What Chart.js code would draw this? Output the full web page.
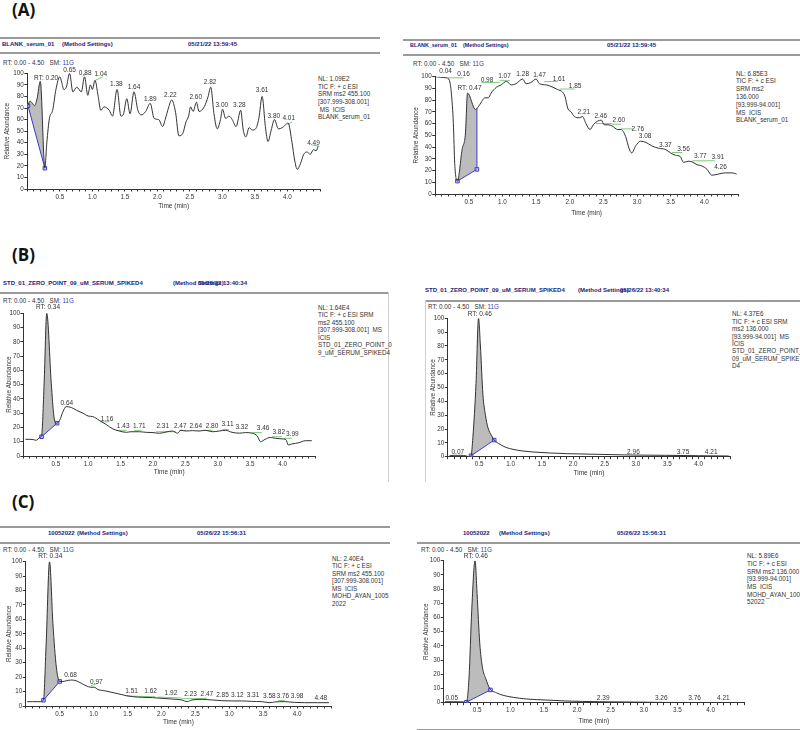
<!DOCTYPE html>
<html>
<head>
<meta charset="utf-8">
<script src="https://cdn.jsdelivr.net/npm/chart.js@4.4.1/dist/chart.umd.min.js"></script>
<style>
body{margin:0;background:#fff;}
#page{position:relative;width:800px;height:730px;overflow:hidden;font-family:"Liberation Sans",Arial,sans-serif;}
.t{position:absolute;white-space:pre;line-height:8px;height:8px;}
.hd{font-size:6px;font-weight:bold;color:#22227a;}
.hds{font-size:5.4px;font-weight:bold;color:#22227a;}
.sm{font-size:6.3px;color:#333;}
.blue{color:#3344aa;}
.rule{position:absolute;height:1.5px;background:#9a9a9a;}
.vr{position:absolute;width:1px;background:#cfcfcf;}
.tag{position:absolute;font-family:"Open Sans",sans-serif;font-weight:bold;font-size:17px;line-height:20px;color:#111;}
.leg{position:absolute;white-space:pre;font-size:6.3px;color:#333;}
canvas{position:absolute;}
</style>
</head>
<body>
<div id="page"></div>
<script>
// (A) left - BLANK_serum_01, SRM 455.100
const blank455Time = [0.01,0.04,0.08,0.11,0.15,0.20,0.27,0.30,0.34,0.39,0.44,0.50,0.53,0.56,0.60,0.65,0.70,0.76,0.83,0.88,0.93,0.97,1.00,1.04,1.09,1.13,1.18,1.26,1.31,1.38,1.44,1.48,1.53,1.58,1.64,1.70,1.75,1.82,1.89,1.95,2.02,2.08,2.12,2.17,2.22,2.28,2.33,2.39,2.44,2.48,2.51,2.55,2.60,2.64,2.72,2.78,2.82,2.87,2.92,2.97,3.00,3.05,3.10,3.15,3.21,3.28,3.32,3.36,3.41,3.46,3.51,3.56,3.61,3.66,3.70,3.75,3.80,3.86,3.92,3.96,4.01,4.07,4.11,4.15,4.20,4.25,4.30,4.35,4.40,4.44,4.47];
const blank455Abund = [72,76,74,72,78,93,18,40,61,68,86,97,92,86,88,100,84,88,84,97,81,90,86,94,80,68,71,68,63,86,63,65,78,65,84,68,64,67,74,61,60,54,60,70,77,66,46,48,58,63,71,67,75,67,71,80,88,65,52,60,69,61,63,60,54,68,51,45,53,51,52,61,80,54,41,51,60,52,53,55,57,40,25,17,22,30,32,30,34,33,37];
const blank455BaseTime = [0.01,0.27];
const blank455BaseAbund = [72,18];
const blank455PeakText = ['RT: 0.20','0.65','0.88','1.04','1.38','1.64','1.89','2.22','2.60','2.82','3.00','3.28','3.61','3.80','4.01','4.49'];
const blank455PeakTime = [0.29,0.65,0.89,1.13,1.37,1.64,1.89,2.20,2.59,2.81,2.99,3.26,3.61,3.79,4.02,4.40];
const blank455PeakAbund = [96,103,100,99,91,88,78,81,79,92,72,72,85,63,61,40];
const blank455GreenTime = [0.85,0.92,null,1.05,1.16,null,4.00,4.07,null,4.38,4.49];
const blank455GreenAbund = [97.7,100,null,94,97,null,55.5,58,null,38,37];

// (A) right - BLANK_serum_01, SRM 136.000
const blank136Time = [0.01,0.08,0.17,0.21,0.24,0.27,0.29,0.33,0.40,0.45,0.48,0.60,0.66,0.74,0.79,0.83,0.91,0.98,1.06,1.13,1.20,1.30,1.35,1.42,1.50,1.55,1.65,1.75,1.82,1.89,1.93,1.97,2.02,2.07,2.14,2.19,2.24,2.30,2.35,2.41,2.47,2.51,2.57,2.63,2.71,2.76,2.83,2.88,2.92,2.98,3.05,3.13,3.22,3.32,3.42,3.50,3.57,3.64,3.69,3.77,3.83,3.89,3.96,4.04,4.11,4.21,4.31,4.41,4.48];
const blank136Abund = [100,99.5,99,97,86,60,26,11,38,52,86,72,76,82,82,86,91,93,96,93,94,98,94,95,98,94,93,91,89,87,83,73,70,66,65,66,60,55,59,62,63,59,59,58,55,55,49,39,35,41,45,44,41,39,38,35,33,32,27,28,27,25,24,21,16,17,18,18,17];
const blank136BaseTime = [0.33,0.62,0.62];
const blank136BaseAbund = [11,21,73];
const blank136PeakText = ['0.04','0.16','RT: 0.47','0.98','1.07','1.28','1.47','1.61','1.85','2.21','2.46','2.60','2.76','3.08','3.37','3.56','3.77','3.91','4.26'];
const blank136PeakTime = [0.155,0.42,0.51,0.77,1.03,1.30,1.55,1.84,2.08,2.21,2.46,2.73,3.01,3.12,3.42,3.69,3.94,4.20,4.24];
const blank136PeakAbund = [105,102,90,97,100,102,101,98,92,70,66,63,55,49,42,38,32,31,23];
const blank136GreenTime = [0.06,0.17,null,0.19,0.42,null,0.69,0.96,null,0.96,1.11,null,1.62,1.82,null,1.85,2.07,null,2.39,2.63,null,2.63,2.76,null,2.76,2.95,null,3.52,3.67,null,3.82,4.01,null,4.01,4.16];
const blank136GreenAbund = [102,102,null,99,99,null,95,95,null,96.6,96.6,null,95.8,95.8,null,89.5,89.5,null,60,60,null,59.5,59.5,null,55.5,55.5,null,35.4,35.4,null,28.3,28.3,null,28.3,28.3];

// (B) left - STD_01_ZERO_POINT_09_uM_SERUM_SPIKED4, SRM 455.100
const std455Time = [0.03,0.10,0.15,0.20,0.25,0.28,0.32,0.36,0.43,0.47,0.51,0.56,0.61,0.66,0.74,0.82,0.92,1.00,1.07,1.17,1.28,1.38,1.48,1.59,1.66,1.79,1.89,2.00,2.10,2.20,2.30,2.38,2.43,2.51,2.61,2.71,2.81,2.92,3.02,3.12,3.22,3.33,3.43,3.53,3.61,3.66,3.73,3.81,3.89,3.99,4.05,4.09,4.14,4.25,4.35,4.45];
const std455Abund = [11.7,11.7,11.5,11,13,14,51,100,51,28,23,25,31,34.6,34,32,30,28,27.6,25,22,19,17.5,16.6,17,17,16.6,16.4,15.9,16.8,17.5,16,18,17.5,17.8,17.5,18,17,17.5,18,16.6,16,16.4,16,14,10,11.7,13,12.4,12,11.5,7.7,8.4,9.3,10.7,10.7];
const std455BaseTime = [0.28,0.52];
const std455BaseAbund = [13.5,23];
const std455PeakText = ['RT: 0.34','0.64','1.16','1.43','1.71','2.31','2.47','2.64','2.80','3.11','3.32','3.46','3.82','3.99'];
const std455PeakTime = [0.38,0.67,1.29,1.54,1.79,2.15,2.42,2.66,2.91,3.15,3.37,3.70,3.94,4.15];
const std455PeakAbund = [104,37,26,21,21,21,21.2,21.2,21.2,22,20,19.4,16.4,15.4];
const std455GreenTime = [1.18,1.33,null,1.46,1.59,null,1.71,1.82,null,2.05,2.35,null,2.40,2.51,null,2.76,2.92,null,3.07,3.17,null,3.53,3.68,null,3.84,3.99,null,4.02,4.14];
const std455GreenAbund = [24,24,null,18,18,null,18,18,null,17,17,null,18,18,null,18,18,null,18.5,18.5,null,16.4,16.4,null,13.5,13.5,null,12.4,12.4];

// (B) right - STD_01_ZERO_POINT_09_uM_SERUM_SPIKED4, SRM 136.000
const std136Time = [0.03,0.10,0.20,0.30,0.33,0.37,0.40,0.45,0.49,0.52,0.56,0.60,0.64,0.70,0.74,0.83,0.93,1.04,1.20,1.36,1.62,1.89,2.41,2.94,3.47,4.00,4.48];
const std136Abund = [0.7,1,1,0.5,0,0.7,14,53,100,80,45,30,21,15,12,9,6.7,5.3,4.1,3.4,2.7,2.2,1.7,1.2,1.0,0.7,0.5];
const std136BaseTime = [0.37,0.74];
const std136BaseAbund = [0.7,12];
const std136PeakText = ['RT: 0.46','0.07','2.96','3.75','4.21'];
const std136PeakTime = [0.51,0.16,2.96,3.75,4.20];
const std136PeakAbund = [103,3.6,3.6,3.1,3.1];

// (C) left - 10052022, SRM 455.100
const sample455Time = [0.02,0.10,0.21,0.26,0.30,0.35,0.40,0.45,0.50,0.55,0.60,0.67,0.74,0.82,0.89,0.96,1.01,1.06,1.18,1.33,1.48,1.57,1.72,1.87,2.01,2.16,2.30,2.38,2.45,2.60,2.74,2.89,3.04,3.18,3.33,3.48,3.60,3.67,3.82,3.96,4.11,4.30,4.47];
const sample455Abund = [3,3,3,4,43,100,57,27,17,17,17.5,18,17.5,15.7,14,13,13,11.5,10.4,8.8,7.2,6.5,6,5.8,5.3,4.8,4.2,3,4.2,4.6,4.2,3.7,3.5,3.5,3.2,3,2.3,2.8,3,2.5,2.3,2.3,2.3];
const sample455BaseTime = [0.26,0.50];
const sample455BaseAbund = [4,17];
const sample455PeakText = ['RT: 0.34','0.68','0.97','1.51','1.62','1.92','2.23','2.47','2.85','3.12','3.31','3.58','3.76','3.98','4.48'];
const sample455PeakTime = [0.36,0.66,1.04,1.56,1.84,2.14,2.43,2.67,2.90,3.12,3.35,3.59,3.79,4.00,4.35];
const sample455PeakAbund = [103.5,21,16.4,10,10,8.8,8,8,7.6,7.6,7.2,6.5,6.5,6.5,5.3];
const sample455GreenTime = [0.96,1.06,null,1.48,1.91,null,1.95,2.30,null,2.30,2.67,null,3.72,3.82];
const sample455GreenAbund = [14,15.7,null,6.9,6.4,null,6.2,5.5,null,5.0,5.3,null,3.7,3.9];

// (C) right - 10052022, SRM 136.000
const sample136Time = [0.02,0.15,0.30,0.34,0.38,0.42,0.47,0.50,0.54,0.58,0.63,0.69,0.79,0.89,1.04,1.24,1.53,1.83,2.33,3.32,4.49];
const sample136Abund = [0.7,0.7,0.5,0,18,65,100,77,42,25,17,10,7,5.2,3.8,2.6,1.9,1.2,0.7,0.2,0];
const sample136BaseTime = [0.34,0.70];
const sample136BaseAbund = [0.3,9];
const sample136PeakText = ['RT: 0.46','0.05','2.39','3.26','3.76','4.21'];
const sample136PeakTime = [0.48,0.12,2.39,3.26,3.76,4.19];
const sample136PeakAbund = [103,3,3,3,3,3];

const FONT = '"Liberation Sans", Arial, sans-serif';
const page = document.getElementById('page');

function pts(ts, ys) {
    let last = 0;
    return ts.map((t, i) => {
        if (t !== null) last = t;
        return {x: last, y: ys[i]};
    });
}

// peak retention-time labels drawn above the trace
const peakLabels = {
    id: 'peakLabels',
    afterDatasetsDraw(chart, args, opts) {
        const {ctx, scales} = chart;
        ctx.save();
        ctx.font = '6.5px ' + FONT;
        ctx.fillStyle = '#333';
        ctx.textAlign = 'center';
        ctx.textBaseline = 'middle';
        opts.text.forEach((s, i) => {
            ctx.fillText(s, scales.x.getPixelForValue(opts.t[i]), scales.y.getPixelForValue(opts.y[i]));
        });
        ctx.restore();
    }
};

function put(x, yc, text, cls) {
    const d = document.createElement('div');
    d.className = 't ' + cls;
    d.style.left = x + 'px';
    d.style.top = (yc - 4) + 'px';
    d.innerHTML = text;
    page.appendChild(d);
}

function rule(x1, x2, y) {
    const d = document.createElement('div');
    d.className = 'rule';
    d.style.left = x1 + 'px';
    d.style.width = (x2 - x1) + 'px';
    d.style.top = y + 'px';
    page.appendChild(d);
}

function vrule(x, y1, y2) {
    const d = document.createElement('div');
    d.className = 'vr';
    d.style.left = x + 'px';
    d.style.top = y1 + 'px';
    d.style.height = (y2 - y1) + 'px';
    page.appendChild(d);
}

function tag(x, y, text) {
    const d = document.createElement('div');
    d.className = 'tag';
    d.style.left = x + 'px';
    d.style.top = y + 'px';
    d.textContent = text;
    page.appendChild(d);
}

function legend(x, yFirst, step, lines) {
    const d = document.createElement('div');
    d.className = 'leg';
    d.style.left = x + 'px';
    d.style.top = (yFirst - step / 2) + 'px';
    d.style.lineHeight = step + 'px';
    d.textContent = lines.join('\n');
    page.appendChild(d);
}

function rtLine(x, yc) {
    put(x, yc, 'RT: 0.00 - 4.50   SM: <span class="blue">11G</span>', 'sm');
}

// box: plot area in page pixels (l,r = 0 and 4.5 min, t,b = 100 and 0 %)
function chromatogram(box, trace, base, green, peaks) {
    const padTop = 12, padRight = 3;
    const left = Math.floor(box.l - box.wy);
    const top = Math.floor(box.t - padTop);
    const w = Math.ceil(box.r + padRight) - left;
    const h = Math.ceil(box.b + box.hx) - top;
    const cv = document.createElement('canvas');
    cv.width = w;
    cv.height = h;
    cv.style.left = left + 'px';
    cv.style.top = top + 'px';
    cv.style.width = w + 'px';
    cv.style.height = h + 'px';
    page.appendChild(cv);

    const datasets = [{
        data: trace,
        borderColor: '#333',
        borderWidth: 1,
        pointRadius: 0,
        cubicInterpolationMode: 'monotone',
        fill: {target: 1, above: '#bcbcbc', below: '#bcbcbc'}
    }, {
        data: base,
        borderColor: '#3b3bd0',
        borderWidth: 1,
        pointStyle: 'rect',
        pointRadius: base.map((p, i) => i < 2 ? 2.5 : 0),
        pointBorderColor: '#3b3bd0',
        pointBackgroundColor: 'rgba(190,190,255,0.6)',
        pointBorderWidth: 1,
        tension: 0,
        fill: false
    }];
    if (green.length) {
        datasets.push({
            data: green,
            borderColor: '#7acb7a',
            borderWidth: 1,
            pointRadius: 0,
            tension: 0,
            spanGaps: false,
            fill: false
        });
    }

    new Chart(cv, {
        type: 'line',
        data: {datasets},
        plugins: [peakLabels],
        options: {
            responsive: false,
            animation: false,
            events: [],
            layout: {padding: {top: box.t - top, right: left + w - box.r, left: 0, bottom: 0}},
            plugins: {
                legend: {display: false},
                tooltip: {enabled: false},
                filler: {propagate: false, drawTime: 'beforeDatasetsDraw'},
                peakLabels: peaks
            },
            scales: {
                x: {
                    type: 'linear', min: 0, max: 4.5,
                    border: {color: '#333', width: 1},
                    grid: {drawOnChartArea: false, drawTicks: true, tickLength: 2.5, color: '#333'},
                    ticks: {
                        stepSize: 0.1, autoSkip: false, maxRotation: 0, padding: 1.5,
                        color: '#333', font: {size: 6.3, family: FONT},
                        callback: v => {
                            const k = Math.round(v * 10);
                            return (k % 5 === 0 && k > 0 && k < 45) ? v.toFixed(1) : '';
                        }
                    },
                    title: {display: true, text: 'Time (min)', color: '#333', font: {size: 6.5, family: FONT}, padding: {top: 0, bottom: 1}},
                    afterFit: s => { s.height = top + h - box.b; }
                },
                y: {
                    min: 0, max: 100,
                    border: {color: '#333', width: 1},
                    grid: {drawOnChartArea: false, drawTicks: true, tickLength: 3, color: '#333'},
                    ticks: {stepSize: 10, padding: 0.5, color: '#333', font: {size: 6.3, family: FONT}},
                    title: {display: true, text: 'Relative Abundance', color: '#333', font: {size: 6.3, family: FONT}, padding: {top: 1, bottom: 1}},
                    afterFit: s => { s.width = box.l - left; }
                }
            }
        }
    });
}

document.addEventListener('DOMContentLoaded', function () {
    tag(12, 0, '(A)');
    tag(12, 245, '(B)');
    tag(12, 492, '(C)');

    // (A) left
    rule(0, 380, 37);
    put(2, 43.5, 'BLANK_serum_01', 'hd');
    put(62, 43.5, '(Method Settings)', 'hd');
    put(188, 43.5, '05/21/22 13:59:45', 'hd');
    rule(0, 380, 52);
    rtLine(3, 63);
    legend(318, 79, 7.6, ['NL: 1.09E2', 'TIC F: + c ESI', 'SRM ms2 455.100', '[307.999-308.001]', ' MS  ICIS', 'BLANK_serum_01']);
    chromatogram({l: 27.3, r: 321.5, t: 73.3, b: 189, wy: 25.2, hx: 21.9},
        pts(blank455Time, blank455Abund), pts(blank455BaseTime, blank455BaseAbund),
        pts(blank455GreenTime, blank455GreenAbund),
        {text: blank455PeakText, t: blank455PeakTime, y: blank455PeakAbund});

    // (A) right
    rule(403, 800, 39);
    put(410, 45, 'BLANK_serum_01', 'hds');
    put(463, 45, '(Method Settings)', 'hds');
    put(607, 45, '05/21/22 13:59:45', 'hd');
    rule(403, 800, 54);
    rtLine(413, 63.5);
    legend(736, 73.5, 7.8, ['NL: 6.85E3', 'TIC F: + c ESI', 'SRM ms2', '136.000', '[93.999-94.001]', 'MS  ICIS', 'BLANK_serum_01']);
    chromatogram({l: 435.2, r: 739.5, t: 76.7, b: 194, wy: 24, hx: 23.9},
        pts(blank136Time, blank136Abund), pts(blank136BaseTime, blank136BaseAbund),
        pts(blank136GreenTime, blank136GreenAbund),
        {text: blank136PeakText, t: blank136PeakTime, y: blank136PeakAbund});

    // (B) left
    put(3, 282.5, 'STD_01_ZERO_POINT_09_uM_SERUM_SPIKED4', 'hd');
    put(173, 282.5, '(Method Settings)', 'hd');
    put(198, 282.5, '05/26/22 13:40:34', 'hd');
    rule(0, 388, 292);
    vrule(388, 292, 482);
    rtLine(3, 301);
    legend(318, 307.5, 7.5, ['NL: 1.64E4', 'TIC F: + c ESI SRM', 'ms2 455.100', '[307.999-308.001]  MS', 'ICIS', 'STD_01_ZERO_POINT_0', '9_uM_SERUM_SPIKED4']);
    chromatogram({l: 23.4, r: 316.6, t: 313.3, b: 456, wy: 19, hx: 20.9},
        pts(std455Time, std455Abund), pts(std455BaseTime, std455BaseAbund),
        pts(std455GreenTime, std455GreenAbund),
        {text: std455PeakText, t: std455PeakTime, y: std455PeakAbund});

    // (B) right
    put(425, 289.5, 'STD_01_ZERO_POINT_09_uM_SERUM_SPIKED4', 'hd');
    put(578, 289.5, '(Method Settings)', 'hd');
    put(620, 289.5, '05/26/22 13:40:34', 'hd');
    rule(425, 800, 300);
    vrule(425, 300, 482);
    rtLine(428, 307);
    legend(732, 314, 7.4, ['NL: 4.37E6', 'TIC F: + c ESI SRM', 'ms2 136.000', '[93.999-94.001]  MS', 'ICIS', 'STD_01_ZERO_POINT_', '09_uM_SERUM_SPIKE', 'D4']);
    chromatogram({l: 447.8, r: 731.5, t: 318.3, b: 456.7, wy: 19.4, hx: 21.2},
        pts(std136Time, std136Abund), pts(std136BaseTime, std136BaseAbund), [],
        {text: std136PeakText, t: std136PeakTime, y: std136PeakAbund});

    // (C) left
    rule(0, 390, 526);
    put(48, 532.5, '10052022', 'hd');
    put(77, 532.5, '(Method Settings)', 'hd');
    put(197, 532.5, '05/26/22 15:56:31', 'hd');
    rule(0, 390, 542);
    rtLine(3, 550);
    legend(332, 558.5, 7.5, ['NL: 2.40E4', 'TIC F: + c ESI', 'SRM ms2 455.100', '[307.999-308.001]', 'MS  ICIS', 'MOHD_AYAN_1005', '2022']);
    chromatogram({l: 25.8, r: 332.7, t: 561.7, b: 706, wy: 21.4, hx: 20.9},
        pts(sample455Time, sample455Abund), pts(sample455BaseTime, sample455BaseAbund),
        pts(sample455GreenTime, sample455GreenAbund),
        {text: sample455PeakText, t: sample455PeakTime, y: sample455PeakAbund});

    // (C) right
    put(463, 532.5, '10052022', 'hd');
    put(499, 532.5, '(Method Settings)', 'hd');
    put(617, 532.5, '05/26/22 15:56:31', 'hd');
    rule(417, 800, 542);
    rule(417, 800, 728.5);
    rtLine(421, 549.5);
    legend(747, 556, 7.7, ['NL: 5.89E6', 'TIC F: + c ESI', 'SRM ms2 136.000', '[93.999-94.001]', 'MS  ICIS', 'MOHD_AYAN_100', '52022']);
    chromatogram({l: 443.7, r: 745.7, t: 560.7, b: 702.7, wy: 22.6, hx: 23.2},
        pts(sample136Time, sample136Abund), pts(sample136BaseTime, sample136BaseAbund), [],
        {text: sample136PeakText, t: sample136PeakTime, y: sample136PeakAbund});
});
</script>
</body>
</html>
